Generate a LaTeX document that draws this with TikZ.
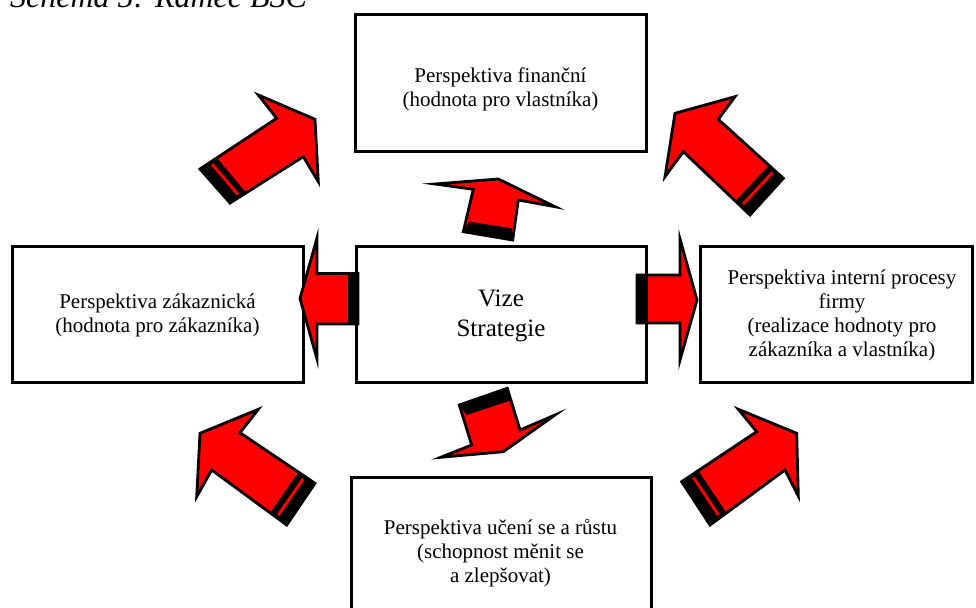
\documentclass[tikz,border=0pt]{standalone}
\usepackage{fontspec}
\setmainfont{Liberation Serif}
\usetikzlibrary{calc}
\newcommand\bscarrow[8]{%
  \coordinate (#1t1) at #2;
  \coordinate (#1j1) at #3;
  \coordinate (#1a) at #4;
  \coordinate (#1p) at #5;
  \coordinate (#1c) at #6;
  \coordinate (#1j2) at #7;
  \coordinate (#1t2) at #8;
  \fill[arrred] (#1t1) -- (#1j1) -- (#1a) -- (#1p) -- (#1c) -- (#1j2) -- (#1t2) -- cycle;
  \fill[black] (#1t1) -- ($(#1t1)!0.22!(#1j1)$) -- ($(#1t2)!0.22!(#1j2)$) -- (#1t2) -- cycle;
  \draw[arrred, line width=3pt, shorten >=3pt, shorten <=3pt] ($(#1t1)!0.135!(#1j1)$) -- ($(#1t2)!0.135!(#1j2)$);
  \draw[arrline] (#1t1) -- (#1j1) -- (#1a) -- (#1p) -- (#1c) -- (#1j2) -- (#1t2) -- cycle;
}
\begin{document}
\begin{tikzpicture}[x=1pt,y=-1pt,
  box/.style={draw=black, line width=3pt, fill=white, inner sep=0pt,
    minimum width=#1, minimum height=136pt},
  box/.default=291pt,
  txt/.style={align=center, inner sep=0pt, font=\fontsize{21}{24}\selectfont},
  arrred/.style={fill=red, color=red},
  arrline/.style={draw=black, line width=2.8pt, line join=miter, miter limit=20}]
\useasboundingbox (0,0) rectangle (976,607);

% title
\node[anchor=base west, inner sep=0pt, font=\itshape\fontsize{32}{38}\selectfont] (title) at (10,8) {Schéma 5: Rámec BSC};

% boxes
\node[box] (fin) at (500.5,83) {};
\node[box=290pt] (vize) at (501,314) {};
\node[box] (zak) at (157.5,314) {};
\node[box=272pt] (int) at (836,314) {};
\node[box=300pt] (uceni) at (501,545) {};

% texts
\node[txt] (finT) at (500.5,89.5) {Perspektiva finanční\\(hodnota pro vlastníka)};
\node[align=center, inner sep=0pt, font=\fontsize{25}{30}\selectfont] (vizeT) at (501,315.5) {Vize\\Strategie};
\node[txt] (zakT) at (157.5,315.5) {Perspektiva zákaznická\\(hodnota pro zákazníka)};
\node[txt] (intT) at (842,315.5) {Perspektiva interní procesy\\firmy\\(realizace hodnoty pro\\zákazníka a vlastníka)};
\node[txt] (uceniT) at (500.5,553) {Perspektiva učení se a růstu\\(schopnost měnit se\\a zlepšovat)};

% left arrow
\fill[arrred] (300,298.5) -- (317,238) -- (317,273.5) -- (358,273.5) -- (358,324) -- (317,324) -- (317,359) -- cycle;
\fill[black] (348,273.5) rectangle (358,324);
\draw[arrline] (300,298.5) -- (317,238) -- (317,273.5) -- (358,273.5) -- (358,324) -- (317,324) -- (317,359) -- cycle;

% right arrow
\fill[arrred] (697,300) -- (680,239) -- (680,275) -- (637,275) -- (637,323) -- (680,323) -- (680,360) -- cycle;
\fill[black] (637,275) rectangle (648,323);
\draw[arrline] (697,300) -- (680,239) -- (680,275) -- (637,275) -- (637,323) -- (680,323) -- (680,360) -- cycle;

% top arrow
\fill[arrred] (435,184) -- (498.3,179) -- (555,206.7) -- (518.3,200) -- (512.7,240) -- (463.3,231.7) -- (473.3,189.3) -- cycle;
\fill[black] (463.3,231.7) -- (512.7,240) -- (511.7,228.3) -- (469.3,221.7) -- cycle;
\draw[arrline] (435,184) -- (498.3,179) -- (555,206.7) -- (518.3,200) -- (512.7,240) -- (463.3,231.7) -- (473.3,189.3) -- cycle;

% bottom arrow
\fill[arrred] (459.3,405) -- (507.3,388.3) -- (520,430) -- (555,415) -- (503.3,451.7) -- (440.7,457.3) -- (471.7,445) -- cycle;
\fill[black] (459.3,405) -- (507.3,388.3) -- (510,400.7) -- (466.7,415) -- cycle;
\draw[arrline] (459.3,405) -- (507.3,388.3) -- (520,430) -- (555,415) -- (503.3,451.7) -- (440.7,457.3) -- (471.7,445) -- cycle;

% diagonal arrows
\bscarrow{tl}{(200,169)}{(276.7,118.3)}{(258.3,95)}{(315,119.3)}{(318.3,181.7)}{(303.3,156.7)}{(230,203)}
\bscarrow{tr}{(783.3,178.3)}{(718.3,119.3)}{(735,96.7)}{(675,113.3)}{(665,176.7)}{(683.3,151.7)}{(750,215)}
\bscarrow{bl}{(315,483.3)}{(240,432.7)}{(258.3,409.3)}{(200,433.3)}{(196.7,496.7)}{(211.7,470)}{(286.7,525)}
\bscarrow{br}{(681.7,481.7)}{(756.7,431.7)}{(738.3,409.3)}{(796.7,433.3)}{(798.3,496)}{(785,470)}{(710,525)}
\end{tikzpicture}
\end{document}
